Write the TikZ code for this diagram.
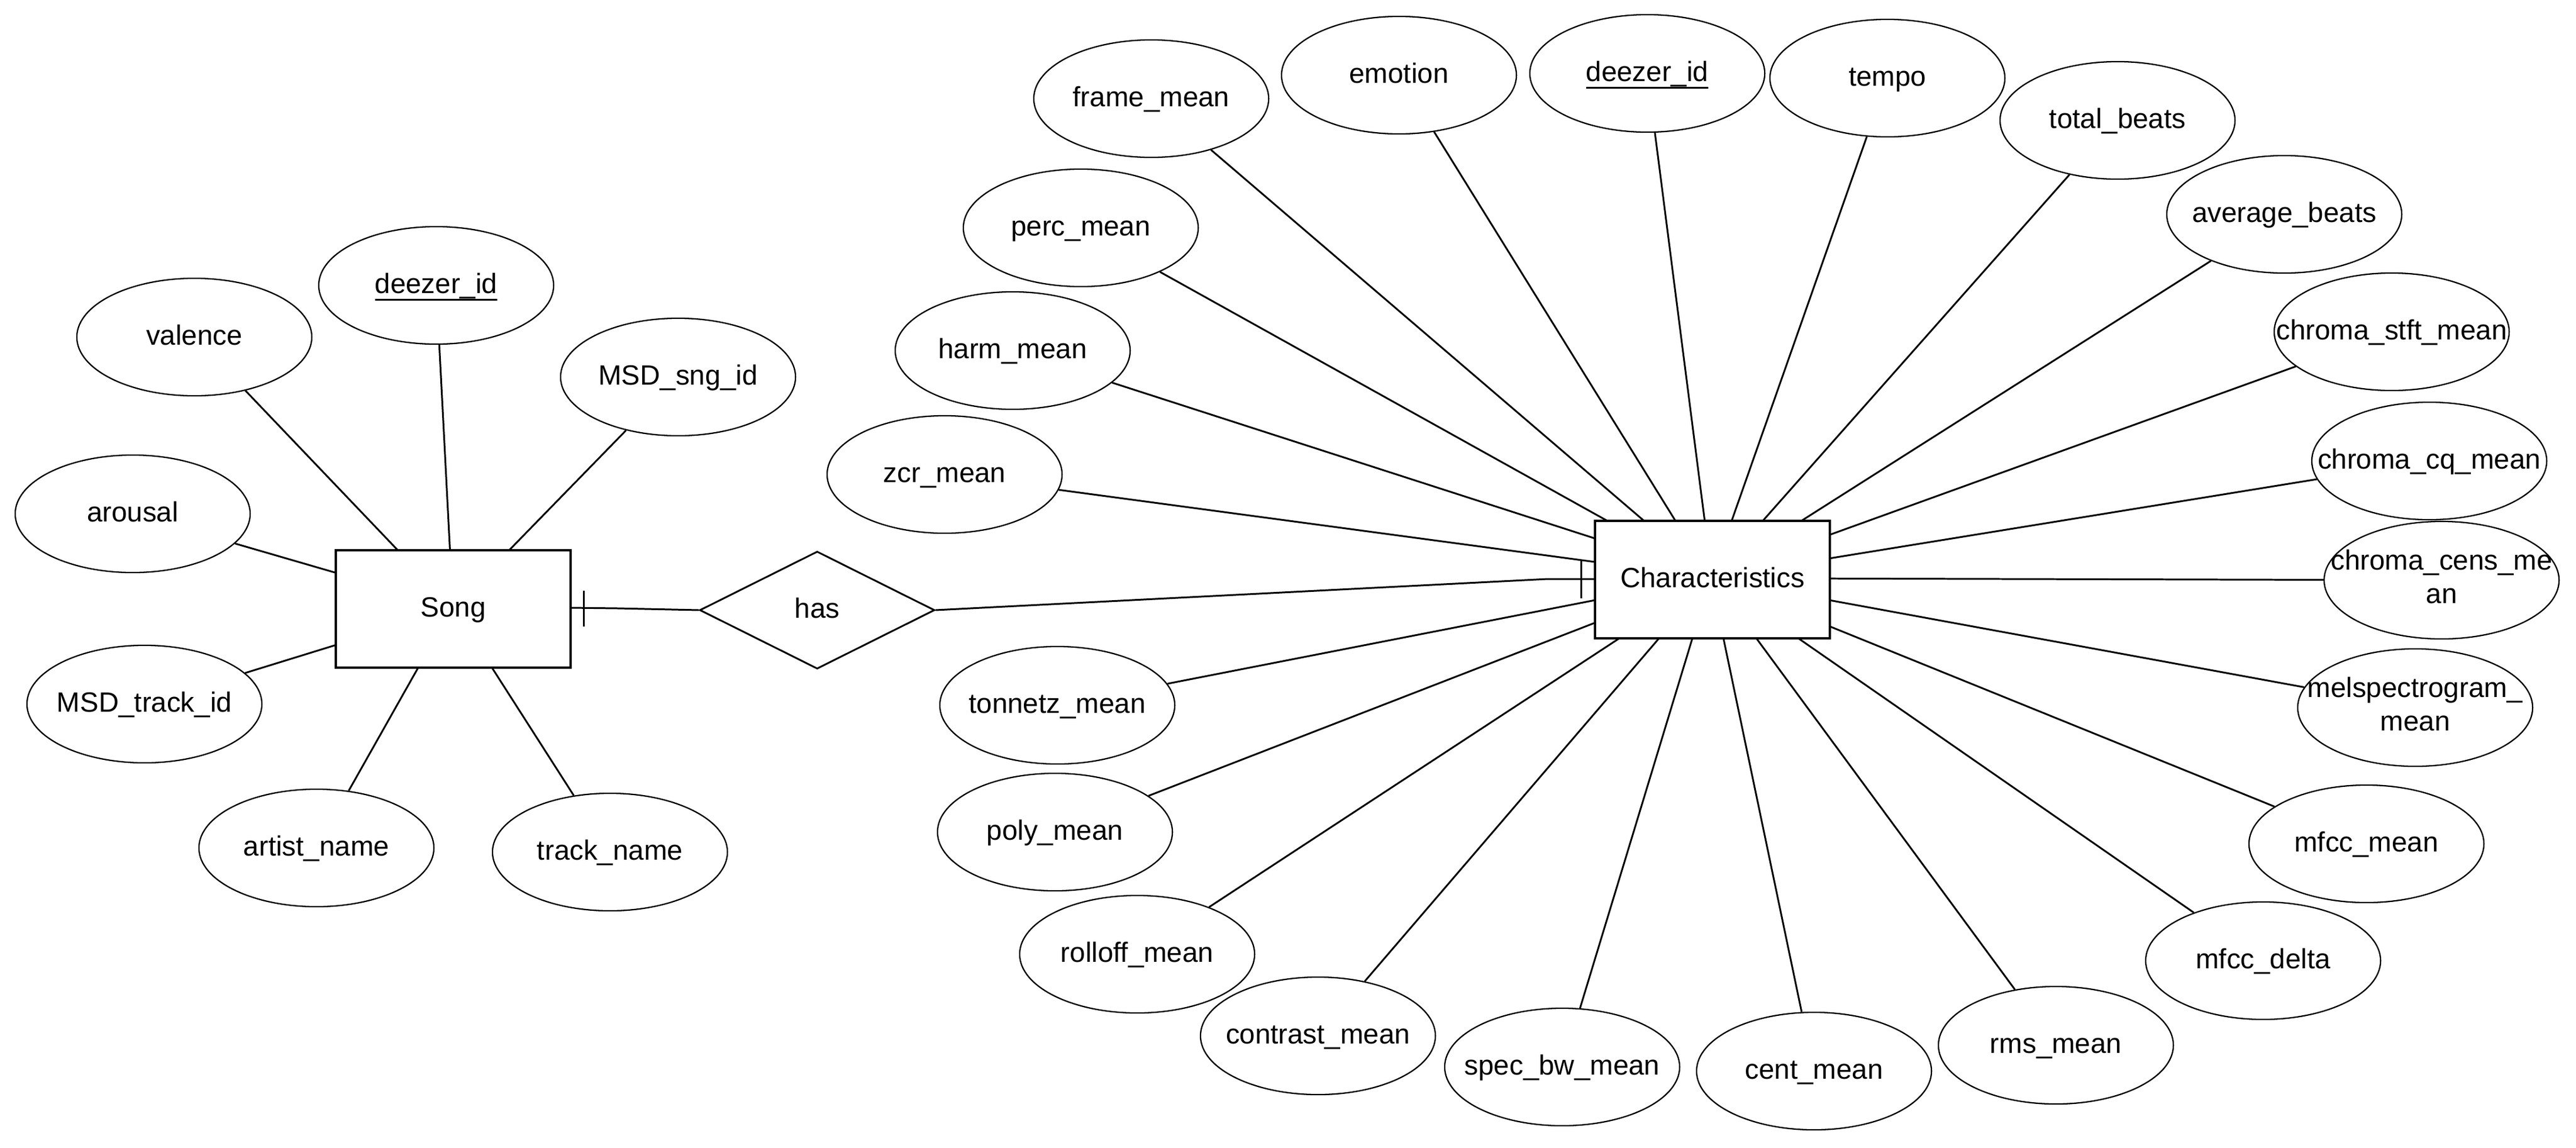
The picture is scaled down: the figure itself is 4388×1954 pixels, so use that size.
\documentclass[tikz,border=0pt]{standalone}
\usepackage{fontspec}
\setmainfont{Liberation Sans}
\usetikzlibrary{shapes.geometric}
\newcommand\myul[1]{\setbox0\hbox{#1}\rlap{\rule[-0.26em]{\wd0}{0.065em}}\box0}
\newcommand\zt[1]{\makebox[0pt]{#1}}
\newcommand\ztt[2]{\makebox[0pt]{\begin{tabular}{@{}c@{}}#1\\#2\end{tabular}}}
\begin{document}
\begin{tikzpicture}[x=0.01cm,y=-0.01cm,
  every node/.style={font=\fontsize{13.5}{16.2}\selectfont, inner sep=0pt},
  lbl/.style={text height=3.6mm, text depth=0.94mm},
  attrbase/.style={ellipse, draw, line width=0.65pt, minimum width=40mm, minimum height=20mm},
  attr/.style={attrbase, lbl},
  entity/.style={rectangle, draw, line width=1.15pt, minimum width=40mm, minimum height=20mm, lbl},
  rel/.style={diamond, draw, line width=0.85pt, minimum width=40mm, minimum height=20mm, aspect=2, lbl},
  conn/.style={line width=0.85pt}]
\fill[white] (0,0) rectangle (4388,1954);
\useasboundingbox (0,0) rectangle (4388,1954);

% entities and relationship
\node[entity] (song) at (772,1037) {Song};
\node[entity] (char) at (2917,987) {Characteristics};
\node[rel] (has) at (1392,1039) {has};

% Song attributes
\node[attr] (valence)  at (331,574)  {\zt{valence}};
\node[attr] (sdeez)    at (743,486)  {\zt{\myul{deezer\_id}}};
\node[attr] (msdsng)   at (1155,642) {\zt{MSD\_sng\_id}};
\node[attr] (arousal)  at (226,875)  {\zt{arousal}};
\node[attr] (msdtrack) at (246,1199) {\zt{MSD\_track\_id}};
\node[attr] (artist)   at (539,1444) {\zt{artist\_name}};
\node[attr] (track)    at (1039,1451){\zt{track\_name}};

% Characteristics attributes
\node[attr] (frame)    at (1961,168)  {\zt{frame\_mean}};
\node[attr] (emotion)  at (2383,128)  {\zt{emotion}};
\node[attr] (cdeez)    at (2806,125)  {\zt{\myul{deezer\_id}}};
\node[attr] (tempo)    at (3215,133)  {\zt{tempo}};
\node[attr] (total)    at (3607,205)  {\zt{total\_beats}};
\node[attr] (average)  at (3891,365)  {\zt{average\_beats}};
\node[attr] (stft)     at (4074,565)  {\zt{chroma\_stft\_mean}};
\node[attr] (cq)       at (4138,785)  {\zt{chroma\_cq\_mean}};
\node[attrbase] (cens) at (4159,988)  {\ztt{chroma\_cens\_me}{an}};
\node[attrbase] (mel)  at (4114,1205) {\ztt{melspectrogram\_}{mean}};
\node[attr] (mfccm)    at (4031,1437) {\zt{mfcc\_mean}};
\node[attr] (mfccd)    at (3855,1636) {\zt{mfcc\_delta}};
\node[attr] (rms)      at (3502,1780) {\zt{rms\_mean}};
\node[attr] (cent)     at (3090,1824) {\zt{cent\_mean}};
\node[attr] (specbw)   at (2661,1817) {\zt{spec\_bw\_mean}};
\node[attr] (contrast) at (2245,1764) {\zt{contrast\_mean}};
\node[attr] (rolloff)  at (1937,1625) {\zt{rolloff\_mean}};
\node[attr] (poly)     at (1797,1417) {\zt{poly\_mean}};
\node[attr] (tonnetz)  at (1801,1201) {\zt{tonnetz\_mean}};
\node[attr] (zcr)      at (1609,808)  {\zt{zcr\_mean}};
\node[attr] (harm)     at (1725,597)  {\zt{harm\_mean}};
\node[attr] (perc)     at (1841,388)  {\zt{perc\_mean}};

% attachment points on Song
\coordinate (sa1) at (677.6,937);
\coordinate (sa2) at (766.5,937);
\coordinate (sa3) at (867.3,937);
\coordinate (sa4) at (572,975.4);
\coordinate (sa5) at (572,1098.4);
\coordinate (sa6) at (712.3,1137);
\coordinate (sa7) at (838,1137);

\draw[conn] (valence) -- (sa1);
\draw[conn] (sdeez) -- (sa2);
\draw[conn] (msdsng) -- (sa3);
\draw[conn] (arousal) -- (sa4);
\draw[conn] (msdtrack) -- (sa5);
\draw[conn] (artist) -- (sa6);
\draw[conn] (track) -- (sa7);

% attachment points on Characteristics
\coordinate (c1)  at (2738,887);
\coordinate (c2)  at (2800.5,887);
\coordinate (c3)  at (2854,887);
\coordinate (c4)  at (2903.8,887);
\coordinate (c5)  at (2949.7,887);
\coordinate (c6)  at (3002.7,887);
\coordinate (c7)  at (3068.4,887);
\coordinate (c8)  at (3117,910.6);
\coordinate (c9)  at (3117,950.8);
\coordinate (c10) at (3117,985.2);
\coordinate (c11) at (3117,1022.2);
\coordinate (c12) at (3117,1066.8);
\coordinate (c13) at (3063.3,1087);
\coordinate (c14) at (2991.8,1087);
\coordinate (c15) at (2935.7,1087);
\coordinate (c16) at (2882.8,1087);
\coordinate (c17) at (2826,1087);
\coordinate (c18) at (2758.4,1087);
\coordinate (c19) at (2717,1060.5);
\coordinate (c20) at (2717,1022);
\coordinate (c21) at (2717,957);
\coordinate (c22) at (2717,917);

\draw[conn] (perc) -- (c1);
\draw[conn] (frame) -- (c2);
\draw[conn] (emotion) -- (c3);
\draw[conn] (cdeez) -- (c4);
\draw[conn] (tempo) -- (c5);
\draw[conn] (total) -- (c6);
\draw[conn] (average) -- (c7);
\draw[conn] (stft) -- (c8);
\draw[conn] (cq) -- (c9);
\draw[conn] (cens) -- (c10);
\draw[conn] (mel) -- (c11);
\draw[conn] (mfccm) -- (c12);
\draw[conn] (mfccd) -- (c13);
\draw[conn] (rms) -- (c14);
\draw[conn] (cent) -- (c15);
\draw[conn] (specbw) -- (c16);
\draw[conn] (contrast) -- (c17);
\draw[conn] (rolloff) -- (c18);
\draw[conn] (poly) -- (c19);
\draw[conn] (tonnetz) -- (c20);
\draw[conn] (zcr) -- (c21);
\draw[conn] (harm) -- (c22);

% relationship links with one-bar markers
\coordinate (sh0) at (972,1035);
\coordinate (sh1) at (1053,1036);
\draw[conn] (sh0) -- (sh1) -- (has.west);
\coordinate (sb1) at (994,1006);
\coordinate (sb2) at (994,1067);
\draw[conn] (sb1) -- (sb2);

\coordinate (ch0) at (2717,986);
\coordinate (ch1) at (2636,986);
\draw[conn] (has.east) -- (ch1) -- (ch0);
\coordinate (cb1) at (2693,955);
\coordinate (cb2) at (2693,1019);
\draw[conn] (cb1) -- (cb2);
\end{tikzpicture}
\end{document}
